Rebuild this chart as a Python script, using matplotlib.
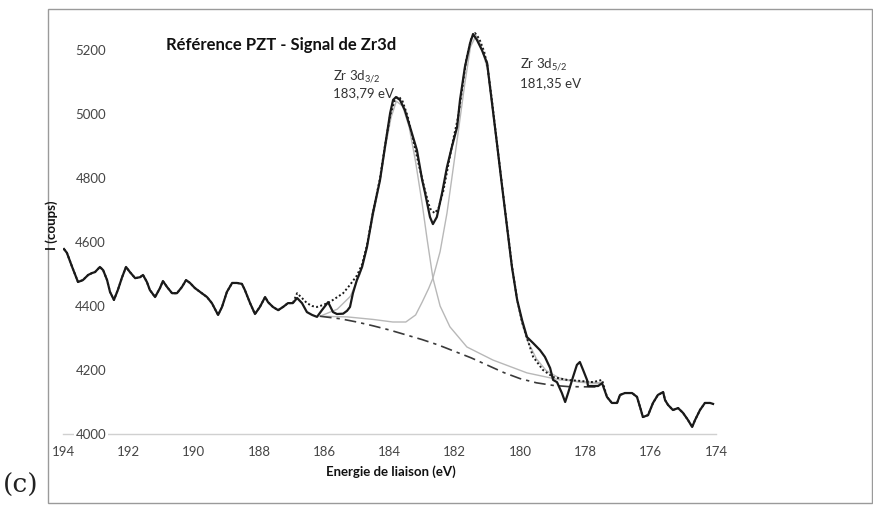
import numpy as np
import matplotlib.pyplot as plt
from matplotlib.patches import Rectangle

plt.rcParams['font.family'] = ['Lato', 'DejaVu Sans']
plt.rcParams['mathtext.fontset'] = 'custom'
plt.rcParams['mathtext.rm'] = 'Lato'
plt.rcParams['mathtext.default'] = 'regular'

# measured Zr3d spectrum (binding energy in eV, counts)
meas_e = [193.97, 193.88, 193.72, 193.54, 193.39, 193.23, 193.11, 193.02, 192.87, 192.77,
          192.65, 192.56, 192.44, 192.32, 192.19, 192.07, 191.95, 191.79, 191.64, 191.55,
          191.43, 191.34, 191.18, 191.03, 190.94, 190.81, 190.66, 190.51, 190.36, 190.23,
          190.11, 189.96, 189.80, 189.59, 189.44, 189.25, 189.13, 188.98, 188.82, 188.67,
          188.52, 188.43, 188.27, 188.12, 187.97, 187.81, 187.72, 187.57, 187.41, 187.26,
          187.11, 186.96, 186.83, 186.68, 186.53, 186.37, 186.22, 186.07, 185.88, 185.73,
          185.61, 185.42, 185.30, 185.21, 185.12, 185.00, 184.84, 184.69, 184.51, 184.29,
          184.14, 183.98, 183.89, 183.80, 183.68, 183.53, 183.37, 183.16, 183.00, 182.91,
          182.76, 182.67, 182.55, 182.39, 182.24, 182.09, 181.93, 181.84, 181.69, 181.53,
          181.44, 181.32, 181.17, 181.01, 180.86, 180.71, 180.55, 180.40, 180.25, 180.09,
          179.94, 179.79, 179.60, 179.39, 179.24, 179.08, 178.99, 178.87, 178.72, 178.62,
          178.53, 178.38, 178.26, 178.17, 178.07, 177.95, 177.92, 177.61, 177.49, 177.34,
          177.19, 177.03, 176.94, 176.79, 176.57, 176.42, 176.30, 176.24, 176.08, 175.93,
          175.78, 175.62, 175.56, 175.47, 175.32, 175.16, 175.01, 174.86, 174.73, 174.64,
          174.49, 174.34, 174.18, 174.09]
meas_i = [4578, 4566, 4522, 4475, 4481, 4497, 4503, 4506, 4522, 4512,
          4481, 4444, 4419, 4450, 4490, 4522, 4506, 4487, 4490, 4497,
          4475, 4450, 4428, 4456, 4478, 4459, 4440, 4440, 4459, 4481,
          4472, 4456, 4444, 4428, 4409, 4372, 4397, 4444, 4472, 4472,
          4469, 4450, 4409, 4375, 4397, 4428, 4412, 4397, 4387, 4397,
          4409, 4409, 4425, 4409, 4381, 4372, 4366, 4387, 4412, 4381,
          4375, 4376, 4385, 4397, 4440, 4481, 4522, 4584, 4690, 4794,
          4897, 5003, 5044, 5053, 5044, 5012, 4959, 4887, 4794, 4753,
          4678, 4656, 4678, 4753, 4834, 4897, 4959, 5044, 5147, 5222,
          5250, 5231, 5200, 5159, 5034, 4909, 4772, 4647, 4522, 4419,
          4356, 4303, 4284, 4262, 4241, 4206, 4169, 4162, 4128, 4100,
          4128, 4178, 4216, 4225, 4200, 4169, 4150, 4150, 4159, 4116,
          4097, 4097, 4122, 4128, 4128, 4116, 4075, 4053, 4059, 4097,
          4122, 4131, 4106, 4091, 4075, 4081, 4066, 4044, 4022, 4044,
          4075, 4097, 4097, 4094]

# fitted envelope inside the fit window
env_e = [186.83, 186.68, 186.53, 186.37, 186.22, 186.04, 185.88, 185.73, 185.42, 185.21,
         185.00, 184.84, 184.69, 184.51, 184.29, 184.14, 183.98, 183.85, 183.72, 183.60,
         183.45, 183.30, 183.10, 182.91, 182.76, 182.62, 182.50, 182.35, 182.20, 182.05,
         181.90, 181.80, 181.65, 181.50, 181.38, 181.25, 181.10, 181.00, 180.86, 180.71,
         180.55, 180.40, 180.25, 180.09, 179.94, 179.79, 179.60, 179.30, 178.99, 178.56,
         178.17, 177.77, 177.49]
env_i = [4440, 4425, 4409, 4400, 4397, 4403, 4410, 4419, 4440, 4466,
         4495, 4530, 4590, 4690, 4800, 4900, 4995, 5040, 5055, 5040,
         4995, 4930, 4840, 4760, 4705, 4690, 4705, 4760, 4840, 4920,
         4990, 5060, 5170, 5235, 5253, 5235, 5195, 5150, 5040, 4910,
         4775, 4650, 4525, 4420, 4350, 4300, 4241, 4200, 4178, 4169,
         4166, 4162, 4169]

# Zr 3d3/2 component
c32_e = [186.13, 185.60, 185.20, 184.90, 184.60, 184.30, 184.10, 183.95, 183.79, 183.60,
         183.40, 183.20, 183.00, 182.85, 182.67, 182.45, 182.15, 181.63, 180.83, 179.79,
         178.78, 177.55]
c32_i = [4368, 4390, 4430, 4500, 4630, 4785, 4910, 4990, 5040, 5025,
         4960, 4850, 4720, 4610, 4487, 4400, 4335, 4272, 4231, 4191,
         4169, 4160]

# Zr 3d5/2 component
c52_e = [186.13, 185.30, 184.50, 183.90, 183.50, 183.20, 183.00, 182.80, 182.67, 182.45,
         182.24, 182.09, 181.90, 181.70, 181.52, 181.35, 181.20, 181.00, 180.86, 180.71,
         180.55, 180.40, 180.25, 180.09, 179.94, 179.79, 179.50, 179.20, 178.80, 178.20,
         177.55]
c52_i = [4368, 4366, 4358, 4350, 4350, 4372, 4412, 4455, 4487, 4570,
         4690, 4800, 4940, 5090, 5210, 5245, 5215, 5140, 5030, 4905,
         4770, 4645, 4520, 4415, 4345, 4295, 4235, 4198, 4175, 4162,
         4157]

# Shirley background
bg_e = [186.13, 185.50, 185.00, 184.50, 184.00, 183.50, 183.00, 182.50, 182.00, 181.50,
        181.00, 180.50, 180.00, 179.50, 179.00, 178.50, 177.60]
bg_i = [4368, 4360, 4350, 4338, 4325, 4310, 4295, 4278, 4258, 4238,
        4215, 4192, 4173, 4160, 4152, 4148, 4147]

xticks = [194, 192, 190, 188, 186, 184, 182, 180, 178, 176, 174]
yticks = [4000, 4200, 4400, 4600, 4800, 5000, 5200]

W, H = 873, 508
fig = plt.figure(figsize=(W / 100, H / 100), dpi=100)
ax = fig.add_axes([63 / W, 1 - 434 / H, (716 - 63) / W, (434 - 18) / H])

# envelope: measured data outside the fit window, fitted sum inside it
meas_e = np.array(meas_e)
meas_i = np.array(meas_i)
left = meas_e > env_e[0]
right = meas_e < env_e[-1]
dot_e = np.concatenate([meas_e[left], env_e, meas_e[right]])
dot_i = np.concatenate([meas_i[left], env_i, meas_i[right]])

ax.plot(c32_e, c32_i, color='#b8b8b8', lw=1.0, zorder=2)
ax.plot(c52_e, c52_i, color='#b8b8b8', lw=1.0, zorder=2)
ax.plot(bg_e, bg_i, color='#3a3a3a', lw=1.2, dashes=(7, 3, 2, 3), zorder=3)
ax.plot(meas_e, meas_i, color='#1a1a1a', lw=1.6, zorder=4)
ax.plot(dot_e, dot_i, color='#1a1a1a', lw=1.4, ls=(0, (1, 1.2)), zorder=5)

ax.set_xlim(194, 174)
ax.set_ylim(4000, 5300)
ax.set_xticks(xticks)
ax.set_yticks(yticks)
ax.tick_params(length=0, labelsize=9.5, labelcolor='#454545')
ax.tick_params(axis='y', pad=-31)
ax.tick_params(axis='x', pad=9)
for lab in ax.get_yticklabels():
    lab.set_bbox(dict(facecolor='white', edgecolor='none', pad=1))
for s in ['left', 'top', 'right']:
    ax.spines[s].set_visible(False)
ax.spines['bottom'].set_color('#d0d0d0')
ax.spines['bottom'].set_linewidth(1.0)
ax.spines['bottom'].set_zorder(1)

# peak labels
ax.text(333 / W, 1 - 77 / H, 'Zr 3d$_{3/2}$', transform=fig.transFigure,
        fontsize=9.5, color='#333333', va='center')
ax.text(333 / W, 1 - 93 / H, '183,79 eV', transform=fig.transFigure,
        fontsize=9.5, color='#333333', va='center')
ax.text(520 / W, 1 - 65 / H, 'Zr 3d$_{5/2}$', transform=fig.transFigure,
        fontsize=9.5, color='#333333', va='center')
ax.text(520 / W, 1 - 83 / H, '181,35 eV', transform=fig.transFigure,
        fontsize=9.5, color='#333333', va='center')

fig.text(281 / W, 1 - 45 / H, 'Référence PZT - Signal de Zr3d', ha='center', va='center',
         fontsize=12, fontweight='bold', color='#111111')
fig.text(391 / W, 1 - 472 / H, 'Energie de liaison (eV)', ha='center', va='center',
         fontsize=9.5, fontweight='bold', color='#111111')
fig.text(52 / W, 1 - 225 / H, 'I (coups)', ha='center', va='center', rotation=90,
         fontsize=9.5, fontweight='bold', color='#111111')
fig.text(21 / W, 1 - 485 / H, '(c)', ha='center', va='center',
         fontsize=19, family='DejaVu Serif', color='#222222')

# chart frame
fig.patches.append(Rectangle((48 / W, 1 - 503 / H), (872 - 48) / W, (503 - 9) / H,
                             transform=fig.transFigure, fill=False,
                             edgecolor='#9a9a9a', lw=1.0))

fig.savefig('out.png', dpi=100)
